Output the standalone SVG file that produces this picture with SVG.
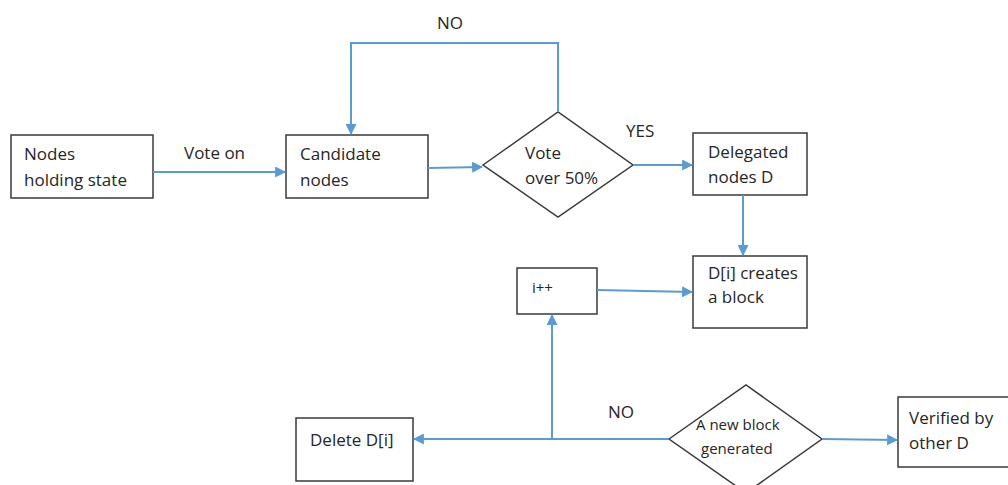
<svg xmlns="http://www.w3.org/2000/svg" width="1008" height="485" viewBox="0 0 1008 485">
  <defs>
    <style>
      .box { fill: #ffffff; stroke: #3a3a3a; stroke-width: 1.5; }
      .link { fill: none; stroke: #5b9bd5; stroke-width: 2; }
      .t { font-family: "Open Sans", "Liberation Sans", sans-serif; font-size: 17px; fill: #262626; }
      .ts { font-family: "Open Sans", "Liberation Sans", sans-serif; font-size: 15px; fill: #262626; }
    </style>
    <marker id="arrow" viewBox="0 0 10 10" refX="9" refY="5" markerWidth="5.5" markerHeight="5.5" orient="auto" markerUnits="strokeWidth">
      <path d="M0,0 L10,5 L0,10 z" fill="#5b9bd5"/>
    </marker>
  </defs>
  <rect width="1008" height="485" fill="#ffffff"/>

  <!-- nodes -->
  <g id="nodes-holding-state">
    <rect class="box" x="11" y="135" width="142" height="63"/>
    <text class="t" x="24" y="160">Nodes</text>
    <text class="t" x="24" y="186">holding state</text>
  </g>
  <g id="candidate-nodes">
    <rect class="box" x="286" y="135" width="142" height="63"/>
    <text class="t" x="300" y="160">Candidate</text>
    <text class="t" x="300" y="186">nodes</text>
  </g>
  <g id="vote-over-50">
    <polygon class="box" points="483,165 558,112 633,165 558,217"/>
    <text class="t" x="525" y="159">Vote</text>
    <text class="t" x="525" y="184">over 50%</text>
  </g>
  <g id="delegated-nodes">
    <rect class="box" x="693" y="133" width="114" height="62"/>
    <text class="t" x="708" y="158">Delegated</text>
    <text class="t" x="708" y="183">nodes D</text>
  </g>
  <g id="creates-block">
    <rect class="box" x="693" y="256" width="114" height="72"/>
    <text class="t" x="708" y="279">D[i] creates</text>
    <text class="t" x="708" y="303">a block</text>
  </g>
  <g id="increment">
    <rect class="box" x="517" y="268" width="80" height="46"/>
    <text class="ts" x="532" y="293">i++</text>
  </g>
  <g id="delete-di">
    <rect class="box" x="296" y="418" width="117" height="63"/>
    <text class="t" x="310" y="446">Delete D[i]</text>
  </g>
  <g id="new-block-generated">
    <polygon class="box" points="669,439 746,385 822,439 746,493"/>
    <text class="ts" x="696" y="430">A new block</text>
    <text class="ts" x="701" y="454">generated</text>
  </g>
  <g id="verified-by-other">
    <rect class="box" x="898" y="397" width="115" height="70"/>
    <text class="t" x="909" y="424">Verified by</text>
    <text class="t" x="909" y="449">other D</text>
  </g>

  <!-- connectors -->
  <g id="connectors">
    <line class="link" x1="153" y1="172" x2="285" y2="172" marker-end="url(#arrow)"/>
    <text class="t" x="184" y="159">Vote on</text>
    <line class="link" x1="428" y1="168" x2="482" y2="167" marker-end="url(#arrow)"/>
    <polyline class="link" points="558,112 558,43 351,43 351,134" marker-end="url(#arrow)"/>
    <text class="t" x="437" y="29">NO</text>
    <line class="link" x1="633" y1="165" x2="692" y2="165" marker-end="url(#arrow)"/>
    <text class="t" x="626" y="137">YES</text>
    <line class="link" x1="743" y1="195" x2="743" y2="255" marker-end="url(#arrow)"/>
    <line class="link" x1="597" y1="290" x2="692" y2="292" marker-end="url(#arrow)"/>
    <line class="link" x1="669" y1="439" x2="414" y2="439" marker-end="url(#arrow)"/>
    <line class="link" x1="552" y1="439" x2="552" y2="315" marker-end="url(#arrow)"/>
    <text class="t" x="608" y="418">NO</text>
    <line class="link" x1="822" y1="439" x2="897" y2="440" marker-end="url(#arrow)"/>
  </g>
</svg>
